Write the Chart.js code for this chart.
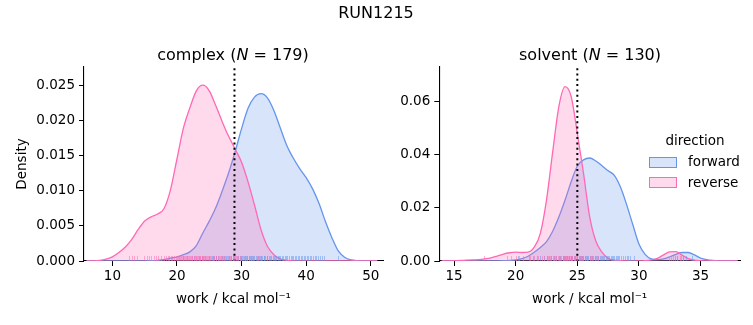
<!DOCTYPE html>
<html>
<head>
<meta charset="utf-8">
<script src="https://cdn.jsdelivr.net/npm/chart.js@4.4.1/dist/chart.umd.min.js"></script>
<style>
  body { margin: 0; background: #fff; font-family: "DejaVu Sans", sans-serif; }
  #wrap { position: relative; width: 753px; height: 325px; overflow: hidden; }
  canvas { position: absolute; top: 0; }
  .lbl { position: absolute; transform: translate(-50%, -50%); white-space: nowrap; color: #000; line-height: 1; }
  .box { position: absolute; width: 26px; height: 9px; border: 1px solid; }
</style>
</head>
<body>
<div id="wrap">
  <canvas id="complexChart" width="384" height="325" style="left:0"></canvas>
  <canvas id="solventChart" width="369" height="325" style="left:384px"></canvas>
  <div class="lbl" style="left:376px; top:13px; font-size:16px">RUN1215</div>
  <div class="lbl" style="left:233px; top:55px; font-size:16px">complex (<i>N</i> = 179)</div>
  <div class="lbl" style="left:590px; top:55px; font-size:16px">solvent (<i>N</i> = 130)</div>
  <div class="lbl" style="left:695px; top:141px; font-size:13.5px">direction</div>
  <div class="box" style="left:649px; top:157px; border-color:#6495ed; background:rgba(100,149,237,0.25)"></div>
  <div class="lbl" style="left:714px; top:162px; font-size:13.5px">forward</div>
  <div class="box" style="left:649px; top:177px; border-color:#ff69b4; background:rgba(255,105,180,0.25)"></div>
  <div class="lbl" style="left:713px; top:183px; font-size:13.5px">reverse</div>
</div>
<script>
// complex leg: KDE sampled on integer grid
const complexX = [6, 7, 8, 9, 10, 11, 12, 13, 14, 15, 16, 17, 18, 19, 20, 21, 22, 23, 24, 25, 26, 27, 28,
  29, 30, 31, 32, 33, 34, 35, 36, 37, 38, 39, 40, 41, 42, 43, 44, 45, 46, 47, 48, 49, 50, 51];
const complexForward = [0, 0, 0, 0, 0, 0, 0, 0, 0, 0.00002, 0.00005, 0.0001, 0.0002, 0.0004, 0.0006, 0.0009,
  0.0013, 0.0022, 0.004, 0.0057, 0.0076, 0.01, 0.0126, 0.0156, 0.0189, 0.0218, 0.0234, 0.0239, 0.0233,
  0.0215, 0.019, 0.0165, 0.0147, 0.0132, 0.0119, 0.0103, 0.0082, 0.0056, 0.0033, 0.0014, 0.0005, 0.00015,
  0.00004, 0, 0, 0];
const complexReverse = [0, 0.00002, 0.00008, 0.00025, 0.0006, 0.0012, 0.002, 0.0031, 0.0045, 0.0057, 0.0063,
  0.0067, 0.0075, 0.0102, 0.0146, 0.019, 0.0219, 0.0243, 0.0251, 0.0243, 0.0222, 0.0199, 0.0178, 0.016,
  0.0141, 0.0113, 0.008, 0.0045, 0.0021, 0.0009, 0.0003, 0.0001, 0.00002, 0, 0, 0, 0, 0, 0, 0, 0, 0, 0, 0, 0, 0];
const complexForwardRug = [18.8, 20.3, 21.0, 21.5, 22.6, 23.4, 23.9, 24.3, 25.0, 25.4, 25.8, 26.1, 26.4, 26.8,
  27.0, 27.3, 27.6, 27.9, 28.1, 28.4, 28.6, 28.8, 29.0, 29.3, 29.5, 29.7, 29.9, 30.1, 30.3, 30.5, 30.7, 30.9,
  31.1, 31.3, 31.5, 31.6, 31.8, 32.0, 32.2, 32.4, 32.5, 32.7, 32.9, 33.0, 33.2, 33.4, 33.5, 33.7, 33.9, 34.0,
  34.2, 34.4, 34.6, 34.8, 35.0, 35.2, 35.4, 35.6, 35.8, 36.0, 36.2, 36.4, 36.7, 36.9, 37.1, 37.4, 37.6, 37.8,
  38.0, 38.3, 38.5, 38.7, 38.9, 39.2, 39.4, 39.6, 39.8, 40.1, 40.3, 40.6, 40.8, 41.1, 41.3, 41.6, 41.9, 42.1,
  42.4, 42.8, 45.0];
const complexReverseRug = [12.6, 13.0, 13.4, 13.8, 14.9, 15.3, 15.6, 16.0, 16.5, 16.8, 17.1, 17.5, 18.0, 18.3,
  18.6, 19.1, 19.3, 19.6, 19.9, 20.0, 20.2, 20.4, 20.6, 20.8, 21.0, 21.1, 21.3, 21.4, 21.6, 21.7, 21.9, 22.0,
  22.1, 22.3, 22.4, 22.6, 22.8, 22.9, 23.0, 23.1, 23.2, 23.4, 23.5, 23.6, 23.8, 23.9, 24.0, 24.1, 24.2, 24.4,
  24.5, 24.7, 24.8, 25.0, 25.1, 25.3, 25.5, 25.6, 25.8, 26.0, 26.1, 26.3, 26.5, 26.7, 26.9, 27.1, 27.3, 27.5,
  27.8, 28.0, 28.2, 28.4, 28.7, 28.9, 29.2, 29.4, 29.7, 29.9, 30.2, 30.5, 30.8, 31.1, 31.4, 31.8, 32.6, 33.0];
const complexXTicks = [10, 20, 30, 40, 50];
const complexYTicks = [0, 0.005, 0.01, 0.015, 0.02, 0.025];

// solvent leg: KDE sampled every 0.5
const solventX = [14, 14.5, 15, 15.5, 16, 16.5, 17, 17.5, 18, 18.5, 19, 19.5, 20, 20.5, 21, 21.5, 22, 22.5,
  23, 23.5, 24, 24.5, 25, 25.5, 26, 26.5, 27, 27.5, 28, 28.5, 29, 29.5, 30, 30.5, 31, 31.5, 32, 32.5, 33,
  33.5, 34, 34.5, 35, 35.5, 36, 36.5, 37, 37.5, 38];
const solventForward = [0, 0, 0, 0, 0, 0, 0, 0, 0.00002, 0.00005, 0.0001, 0.0002, 0.0004, 0.0009, 0.0018,
  0.0033, 0.0051, 0.0073, 0.0112, 0.0165, 0.0228, 0.0298, 0.0357, 0.038, 0.0387, 0.0376, 0.0358, 0.0339,
  0.0322, 0.0278, 0.0212, 0.0137, 0.0064, 0.0025, 0.0008, 0.0005, 0.0008, 0.0016, 0.0025, 0.0032, 0.0032,
  0.0023, 0.0011, 0.0005, 0.0002, 0.00005, 0, 0, 0];
const solventReverse = [0, 0.00005, 0.0001, 0.0002, 0.0003, 0.0004, 0.0005, 0.0008, 0.0012, 0.0018, 0.0026,
  0.0031, 0.0033, 0.0032, 0.0033, 0.0052, 0.0104, 0.023, 0.041, 0.058, 0.0655, 0.0618, 0.048, 0.033, 0.0167,
  0.0075, 0.0033, 0.001, 0.0003, 0.0001, 0, 0, 0, 0.0001, 0.0004, 0.001, 0.0023, 0.0034, 0.0035, 0.0022,
  0.0009, 0.0003, 0.0001, 0, 0, 0, 0, 0, 0];
const solventForwardRug = [20.2, 21.1, 21.4, 21.7, 22.0, 22.3, 22.5, 22.7, 22.9, 23.1, 23.3, 23.5, 23.6, 23.8,
  23.9, 24.0, 24.2, 24.35, 24.5, 24.6, 24.7, 24.85, 25.0, 25.1, 25.2, 25.3, 25.4, 25.5, 25.6, 25.7, 25.8,
  25.9, 26.0, 26.1, 26.2, 26.3, 26.4, 26.5, 26.6, 26.7, 26.8, 26.9, 27.0, 27.1, 27.2, 27.3, 27.4, 27.5, 27.6,
  27.7, 27.8, 27.9, 28.0, 28.1, 28.2, 28.3, 28.4, 28.55, 28.7, 28.85, 29.0, 29.15, 29.3, 29.6, 32.9, 33.1,
  33.4, 33.6, 33.8, 34.3];
const solventReverseRug = [17.4, 19.3, 19.6, 20.0, 20.3, 20.6, 21.2, 21.5, 21.8, 22.1, 22.3, 22.5, 22.6, 22.8,
  22.9, 23.0, 23.1, 23.2, 23.3, 23.4, 23.5, 23.6, 23.7, 23.8, 23.85, 23.9, 24.0, 24.05, 24.1, 24.15, 24.2,
  24.25, 24.3, 24.35, 24.4, 24.45, 24.5, 24.55, 24.6, 24.7, 24.8, 24.85, 24.9, 25.0, 25.1, 25.2, 25.3, 25.4,
  25.5, 25.65, 25.8, 26.0, 26.2, 26.4, 26.7, 32.4, 32.6, 32.8, 33.1, 33.3, 33.6];
const solventXTicks = [15, 20, 25, 30, 35];
const solventYTicks = [0, 0.02, 0.04, 0.06];

// dotted reference lines
const complexMarker = 28.9;
const solventMarker = 25.0;

const BLUE = "#6495ed";
const PINK = "#ff69b4";
const FONT = "'DejaVu Sans'";

const zip = (xs, ys) => xs.map((x, i) => ({ x: x, y: ys[i] }));

// rug ticks along the bottom of the axes
const rugPlugin = {
  id: "rug",
  afterDatasetsDraw(chart, args, opts) {
    const ctx = chart.ctx;
    const xs = chart.scales.x;
    const bottom = chart.chartArea.bottom;
    ctx.save();
    ctx.lineWidth = 1;
    (opts.sets || []).forEach((set) => {
      ctx.strokeStyle = set.color;
      set.values.forEach((v) => {
        const px = Math.round(xs.getPixelForValue(v)) + 0.5;
        ctx.beginPath();
        ctx.moveTo(px, bottom);
        ctx.lineTo(px, bottom - 5);
        ctx.stroke();
      });
    });
    ctx.restore();
  }
};

function makeChart(id, cfg) {
  const kde = (label, xs, ys, color, fill) => ({
    label: label,
    data: zip(xs, ys),
    borderColor: color,
    backgroundColor: fill,
    borderWidth: 1.3,
    fill: "origin",
    pointRadius: 0,
    cubicInterpolationMode: "monotone"
  });
  return new Chart(id, {
    type: "line",
    data: {
      datasets: [
        {
          data: [{ x: cfg.marker, y: 0 }, { x: cfg.marker, y: cfg.yMax }],
          borderColor: "#000",
          borderWidth: 2,
          borderDash: [2, 3.3],
          pointRadius: 0,
          fill: false
        },
        kde("reverse", cfg.x, cfg.reverse, PINK, "rgba(255,105,180,0.25)"),
        kde("forward", cfg.x, cfg.forward, BLUE, "rgba(100,149,237,0.25)")
      ]
    },
    options: {
      responsive: false,
      animation: false,
      devicePixelRatio: 1,
      layout: { padding: { top: 67, right: cfg.padRight, left: 0, bottom: 0 } },
      plugins: {
        legend: { display: false },
        tooltip: { enabled: false },
        rug: {
          sets: [
            { values: cfg.forwardRug, color: "rgba(100,149,237,0.5)" },
            { values: cfg.reverseRug, color: "rgba(255,105,180,0.5)" }
          ]
        }
      },
      scales: {
        x: {
          type: "linear",
          min: cfg.xMin,
          max: cfg.xMax,
          afterBuildTicks: (s) => { s.ticks = cfg.xTicks.map((v) => ({ value: v })); },
          afterFit: (s) => { s.height = 64; },
          grid: { drawOnChartArea: false, drawTicks: true, tickLength: 5, color: "#000", lineWidth: 1 },
          border: { color: "#000", width: 1.1 },
          ticks: { color: "#000", padding: 2, maxRotation: 0, font: { family: FONT, size: 13.5 },
            callback: (v) => String(v) },
          title: { display: true, text: "work / kcal mol\u207b\u00b9", color: "#000",
            font: { family: FONT, size: 13.5 }, padding: { top: 0, bottom: 17 } }
        },
        y: {
          min: 0,
          max: cfg.yMax,
          afterBuildTicks: (s) => { s.ticks = cfg.yTicks.map((v) => ({ value: v })); },
          afterFit: (s) => { s.width = cfg.yWidth; },
          grid: { drawOnChartArea: false, drawTicks: true, tickLength: 5, color: "#000", lineWidth: 1 },
          border: { color: "#000", width: 1.1 },
          ticks: { color: "#000", padding: 4, font: { family: FONT, size: 13.5 },
            callback: (v) => v.toFixed(cfg.digits) },
          title: { display: cfg.yTitle, text: "Density", color: "#000",
            font: { family: FONT, size: 13.5 }, padding: { top: 14, bottom: 0 } }
        }
      }
    },
    plugins: [rugPlugin]
  });
}

makeChart("complexChart", {
  x: complexX, forward: complexForward, reverse: complexReverse,
  forwardRug: complexForwardRug, reverseRug: complexReverseRug,
  xTicks: complexXTicks, yTicks: complexYTicks, marker: complexMarker,
  xMin: 5.6, xMax: 51.9, yMax: 0.0277, digits: 3, yWidth: 84, padRight: 1, yTitle: true
});

makeChart("solventChart", {
  x: solventX, forward: solventForward, reverse: solventReverse,
  forwardRug: solventForwardRug, reverseRug: solventReverseRug,
  xTicks: solventXTicks, yTicks: solventYTicks, marker: solventMarker,
  xMin: 13.8, xMax: 38.2, yMax: 0.0729, digits: 2, yWidth: 55.3, padRight: 13, yTitle: false
});
</script>
</body>
</html>
